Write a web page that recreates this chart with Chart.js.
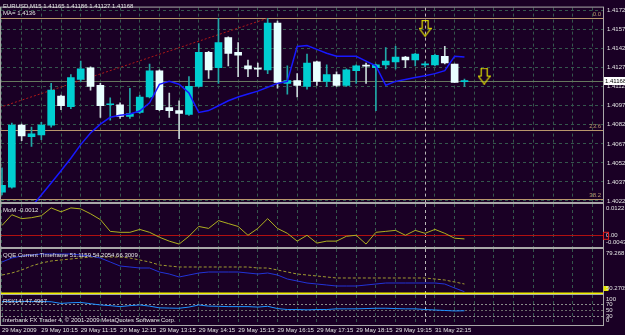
<!DOCTYPE html>
<html>
<head>
<meta charset="utf-8">
<title>EURUSD,M15</title>
<script src="https://cdn.jsdelivr.net/npm/chart.js"></script>
<style>
  html, body { margin: 0; padding: 0; background: #1a0025; }
  #wrap { position: relative; width: 625px; height: 335px; overflow: hidden; }
  #wrap canvas { position: absolute; left: 0; top: 0; }
</style>
</head>
<body>
<div id="wrap">
  <canvas id="main" width="625" height="335"></canvas>
  <canvas id="mom" width="625" height="335"></canvas>
  <canvas id="qqe" width="625" height="335"></canvas>
  <canvas id="rsi" width="625" height="335"></canvas>
</div>
<script>
// EURUSD M15, 48 bars starting 29 May 2009 09:15
var openPrices  = [1.40294, 1.40333, 1.40822, 1.40731, 1.40746, 1.40822, 1.41052, 1.40968, 1.41182, 1.41274,
                   1.41136, 1.40983, 1.40983, 1.40891, 1.40922, 1.41044, 1.41251, 1.40960, 1.40937, 1.40906,
                   1.41128, 1.41396, 1.41274, 1.41511, 1.41396, 1.41289, 1.41266, 1.41258, 1.41626, 1.41151,
                   1.41174, 1.41128, 1.41320, 1.41167, 1.41220, 1.41136, 1.41251, 1.41289, 1.41274, 1.41297,
                   1.41320, 1.41358, 1.41335, 1.41297, 1.41297, 1.41365, 1.41304, 1.41165];
var highPrices  = [1.40486, 1.40838, 1.40830, 1.40807, 1.40845, 1.41151, 1.41059, 1.41220, 1.41327, 1.41281,
                   1.41151, 1.41037, 1.40998, 1.41113, 1.41059, 1.41304, 1.41258, 1.41075, 1.41014, 1.41205,
                   1.41465, 1.41404, 1.41664, 1.41518, 1.41473, 1.41335, 1.41312, 1.41664, 1.41641, 1.41289,
                   1.41228, 1.41381, 1.41327, 1.41297, 1.41243, 1.41266, 1.41297, 1.41312, 1.41304, 1.41434,
                   1.41442, 1.41365, 1.41388, 1.41320, 1.41381, 1.41442, 1.41304, 1.41186];
var lowPrices   = [1.40272, 1.40325, 1.40700, 1.40654, 1.40708, 1.40807, 1.40945, 1.40952, 1.41167, 1.41098,
                   1.40884, 1.40861, 1.40876, 1.40876, 1.40914, 1.41037, 1.40937, 1.40884, 1.40715, 1.40899,
                   1.41121, 1.41190, 1.41151, 1.41289, 1.41205, 1.41205, 1.41205, 1.41228, 1.41113, 1.41067,
                   1.41044, 1.41105, 1.41136, 1.41128, 1.41128, 1.41128, 1.41151, 1.41151, 1.40937, 1.41266,
                   1.41266, 1.41274, 1.41289, 1.41281, 1.41289, 1.41304, 1.41159, 1.41127];
var closePrices = [1.40348, 1.40822, 1.40738, 1.40753, 1.40822, 1.41098, 1.40975, 1.41197, 1.41266, 1.41128,
                   1.40975, 1.40985, 1.40891, 1.40914, 1.41044, 1.41251, 1.40945, 1.40937, 1.40914, 1.41128,
                   1.41396, 1.41258, 1.41473, 1.41388, 1.41373, 1.41266, 1.41264, 1.41626, 1.41159, 1.41174,
                   1.41136, 1.41312, 1.41167, 1.41220, 1.41136, 1.41258, 1.41289, 1.41287, 1.41297, 1.41327,
                   1.41358, 1.41335, 1.41381, 1.41299, 1.41373, 1.41312, 1.41159, 1.41168];

var maValues = [null, null, null, 1.40180, 1.40272, 1.40367, 1.40463, 1.40562, 1.40669, 1.40761,
                1.40830, 1.40884, 1.40901, 1.40910, 1.40933, 1.40998, 1.41144, 1.41167, 1.41144, 1.41075,
                1.40922, 1.40937, 1.40975, 1.41014, 1.41044, 1.41067, 1.41090, 1.41121, 1.41151, 1.41167,
                1.41442, 1.41450, 1.41419, 1.41388, 1.41365, 1.41365, 1.41365, 1.41327, 1.41289, 1.41136,
                1.41167, 1.41182, 1.41197, 1.41212, 1.41228, 1.41251, 1.41365, 1.41358];

var momValues = [0.00395, 0.00808, 0.00658, 0.00695, 0.00770, 0.01070, 0.00920, 0.01070, 0.01033, 0.00845,
                 0.00620, 0.00170, 0.00133, 0.00133, 0.00245, 0.00133, -0.00055, -0.00205, -0.00318, -0.00018,
                 0.00358, 0.00283, 0.00583, 0.00470, 0.00358, 0.00020, 0.00283, 0.00658, 0.00283, 0.00095,
                 -0.00205, 0.00020, -0.00280, -0.00205, -0.00205, -0.00018, 0.00020, -0.00318, 0.00133, 0.00170,
                 0.00208, 0.00020, 0.00208, 0.00095, 0.00245, 0.00095, -0.00093, -0.00120];

var qqeRsiValues = [70.70, 73.34, 74.66, 75.31, 75.97, 75.97, 75.97, 75.97, 75.31, 74.66,
                    73.34, 70.70, 68.07, 67.41, 66.75, 66.75, 64.11, 62.79, 60.82, 62.13,
                    63.45, 64.11, 64.11, 64.11, 64.11, 63.45, 62.79, 63.45, 62.13, 59.50,
                    58.18, 56.86, 56.20, 55.54, 54.88, 54.88, 54.88, 55.54, 56.20, 56.86,
                    56.86, 56.86, 56.86, 56.86, 56.86, 56.20, 53.57, 51.12];
var qqeTrailValues = [62.13, 63.45, 65.43, 68.07, 70.04, 71.36, 72.02, 72.68, 73.34, 73.99,
                      73.99, 73.99, 73.99, 73.34, 72.02, 70.70, 68.72, 68.07, 67.41, 67.41,
                      67.41, 67.41, 67.41, 67.41, 67.41, 67.41, 66.75, 66.75, 65.43, 64.11,
                      62.79, 62.13, 61.48, 60.82, 60.16, 60.16, 60.16, 60.16, 60.16, 60.16,
                      60.16, 60.16, 60.16, 60.16, 59.50, 58.84, 57.52, 56.20];

var rsiValues = [78.4, 78.4, 78.4, 78.4, 78.4, 77.4, 71.9, 74.2, 75.2, 71.0,
                 66.8, 64.5, 61.3, 64.5, 66.8, 62.9, 57.1, 56.4, 55.8, 59.7,
                 66.8, 62.9, 62.3, 61.3, 61.3, 61.3, 59.7, 62.3, 54.8, 51.6,
                 51.6, 50.6, 51.6, 51.6, 53.9, 53.9, 53.9, 54.8, 55.8, 55.8,
                 54.8, 53.9, 53.9, 51.6, 50.0, 48.4, 46.8, 47.5];

var priceTicks = [1.40225, 1.40375, 1.40525, 1.40675, 1.40825, 1.40975, 1.41125, 1.41275, 1.41425, 1.41575, 1.41725];
var timeLabels = ['29 May 2009', '29 May 10:15', '29 May 11:15', '29 May 12:15', '29 May 13:15', '29 May 14:15',
                  '29 May 15:15', '29 May 16:15', '29 May 17:15', '29 May 18:15', '29 May 19:15', '31 May 22:15'];
var timeLabelBars = [0, 4, 8, 12, 16, 20, 24, 28, 32, 36, 40, 44];
var separatorBar = 43;

var fibHigh = 1.41664, fibRange = 0.0373;
var fibLevels = [0, 23.6, 38.2];
var fibLineBars = [-1, 27];
var fibLinePrices = [1.40942, 1.41664];

var arrowBars = [43, 49];
var arrowPrices = [1.41585, 1.41209];

var BG = '#1a0025', GRID = '#35574d', TEXT = '#e4e4e4', BORDER = '#a8a8a8', SEPARATOR = '#b8b8b8';
var BULL = '#00ced1', BEAR = '#e8ffff', BULL_WICK = '#20a8a8', BEAR_WICK = '#c8d8d8';
var FIB = '#b8966c';
var FONT = '6px "Liberation Sans", Arial, sans-serif';
var X_MIN = -0.1, X_MAX = 61.08;

Chart.defaults.font.family = '"Liberation Sans", Arial, sans-serif';
Chart.defaults.font.size = 6;
Chart.defaults.color = TEXT;
Chart.defaults.animation = false;
Chart.defaults.events = [];
Chart.defaults.layout.autoPadding = false;
Chart.defaults.plugins.legend.display = false;
Chart.defaults.plugins.tooltip.enabled = false;

var gridBars = [];
for (var g = 0; g <= 60; g += 2) gridBars.push(g);

function pts(arr) {
  return arr.map(function (v, i) { return { x: i, y: v }; });
}
function isBull(i) { return closePrices[i] >= openPrices[i]; }

function xAxis(labels) {
  return {
    type: 'linear', min: X_MIN, max: X_MAX, offset: false,
    afterBuildTicks: function (s) { s.ticks = gridBars.map(function (v) { return { value: v }; }); },
    afterFit: function (s) { s.height = labels ? 10 : 0; },
    grid: { color: GRID, drawTicks: false, offset: false },
    border: { display: false, dash: [3, 3] },
    ticks: labels ? {
      autoSkip: false, maxRotation: 0, minRotation: 0, align: 'start', padding: 2, color: TEXT,
      callback: function (v) {
        var k = timeLabelBars.indexOf(v);
        return k >= 0 ? timeLabels[k] : '';
      }
    } : { display: false }
  };
}

function yAxis(min, max) {
  return {
    type: 'linear', position: 'right', min: min, max: max,
    afterFit: function (s) { s.width = 22; },
    grid: { display: false },
    border: { display: false },
    ticks: { display: false }
  };
}

function panePlugin(cfg) {
  return {
    id: 'pane',
    beforeDatasetsDraw: function (chart) {
      var ctx = chart.ctx, a = chart.chartArea, xs = chart.scales.x, ys = chart.scales.y;
      ctx.save();
      ctx.lineWidth = 1;
      ctx.strokeStyle = BORDER;
      ctx.strokeRect(a.left - 0.5, a.top - 0.5, a.right - a.left + 1, a.bottom - a.top + 1);
      var sx = Math.round(xs.getPixelForValue(separatorBar)) + 0.5;
      ctx.strokeStyle = SEPARATOR;
      ctx.setLineDash([3, 3]);
      ctx.beginPath(); ctx.moveTo(sx, a.top); ctx.lineTo(sx, a.bottom); ctx.stroke();
      ctx.font = FONT;
      (cfg.levels || []).forEach(function (l) {
        var py = Math.floor(ys.getPixelForValue(l.value)) + 0.5;
        ctx.strokeStyle = l.color;
        ctx.lineWidth = l.width || 1;
        ctx.setLineDash(l.dash || []);
        ctx.beginPath(); ctx.moveTo(a.left, py); ctx.lineTo(a.right, py); ctx.stroke();
        if (l.text) {
          ctx.fillStyle = l.color;
          ctx.textAlign = 'right';
          ctx.textBaseline = 'bottom';
          ctx.fillText(l.text, a.right - 2, py - 1);
        }
      });
      ctx.restore();
    },
    afterDraw: function (chart) {
      var ctx = chart.ctx, a = chart.chartArea, ys = chart.scales.y;
      ctx.save();
      ctx.font = FONT;
      ctx.textBaseline = 'middle';
      ctx.textAlign = 'left';
      (cfg.texts || []).forEach(function (t) {
        ctx.fillStyle = TEXT;
        ctx.fillText(t.text, t.x, t.y);
      });
      (cfg.axisLabels || []).forEach(function (l) {
        var py = Math.min(Math.max(ys.getPixelForValue(l.value), a.top + 4.5), a.bottom - 4.5);
        var lx = a.right + 3;
        if (l.fill) {
          ctx.fillStyle = l.fill;
          ctx.fillRect(a.right + 0.5, py - 2.5, 5, 5);
        }
        ctx.fillStyle = TEXT;
        ctx.fillText(l.text, lx, py);
        if (l.stroke) {
          ctx.strokeStyle = l.stroke;
          ctx.lineWidth = 1;
          ctx.strokeRect(a.right + 0.5, py - 3.5, 5, 7);
        }
      });
      if (cfg.priceBox) {
        var by = ys.getPixelForValue(cfg.priceBox.value);
        ctx.fillStyle = '#ffffff';
        ctx.fillRect(a.right + 1, Math.round(by) - 4, 22, 8);
        ctx.fillStyle = '#000000';
        ctx.fillText(cfg.priceBox.text, a.right + 2, by);
      }
      ctx.restore();
    }
  };
}

// arrow marker used by the two arrow objects
var arrowImg = document.createElement('canvas');
arrowImg.width = 13; arrowImg.height = 17;
var ac = arrowImg.getContext('2d');
ac.strokeStyle = '#e2e200';
ac.lineWidth = 1.2;
ac.beginPath();
ac.moveTo(3.5, 0.6); ac.lineTo(9.5, 0.6); ac.lineTo(9.5, 8.5); ac.lineTo(12.4, 8.5);
ac.lineTo(6.5, 16.3); ac.lineTo(0.6, 8.5); ac.lineTo(3.5, 8.5); ac.closePath();
ac.stroke();

var bars = openPrices.map(function (v, i) { return i; });
var last = bars.length - 1;

// main price pane
var mainY = {
  type: 'linear', position: 'right', min: 1.40217, max: 1.41748,
  afterBuildTicks: function (s) { s.ticks = priceTicks.map(function (v) { return { value: v }; }); },
  afterFit: function (s) { s.width = 22; },
  grid: { color: GRID, drawTicks: false },
  border: { display: false, dash: [3, 3] },
  ticks: { padding: 4, color: TEXT, callback: function (v) { return v.toFixed(5); } }
};

new Chart(document.getElementById('main'), {
  type: 'bar',
  data: {
    datasets: [
      {
        type: 'line', data: pts(maValues), borderColor: '#1818ff', borderWidth: 1.5,
        pointRadius: 0, tension: 0, order: 0
      },
      {
        type: 'scatter', data: arrowBars.map(function (b, i) { return { x: b, y: arrowPrices[i] }; }),
        pointStyle: arrowImg, pointRadius: 7, order: 0
      },
      {
        data: bars.map(function (i) { return { x: i, y: [openPrices[i], closePrices[i]] }; }),
        backgroundColor: function (c) { return isBull(c.dataIndex) ? BULL : BEAR; },
        barThickness: 7, minBarLength: 1, grouped: false, borderWidth: 0, order: 1
      },
      {
        data: bars.map(function (i) { return { x: i, y: [lowPrices[i], highPrices[i]] }; }),
        backgroundColor: function (c) { return isBull(c.dataIndex) ? BULL_WICK : BEAR_WICK; },
        barThickness: 1, grouped: false, borderWidth: 0, order: 2
      },
      {
        type: 'line', data: fibLineBars.map(function (b, i) { return { x: b, y: fibLinePrices[i] }; }),
        borderColor: '#b01818', borderWidth: 1, borderDash: [2, 2], pointRadius: 0, order: 3
      }
    ]
  },
  options: {
    responsive: false,
    layout: { padding: { left: 1, top: 2, right: 0, bottom: 133 } },
    scales: { x: xAxis(false), y: mainY }
  },
  plugins: [panePlugin({
    levels: fibLevels.map(function (p) {
      return { value: fibHigh - p / 100 * fibRange, color: FIB, text: p.toFixed(1) };
    }).concat([{ value: closePrices[last], color: '#66775e' }]),
    texts: [
      { text: 'EURUSD,M15 ' + [openPrices[last], highPrices[last], lowPrices[last], closePrices[last]].map(function (v) { return v.toFixed(5); }).join(' '), x: 3, y: 6 },
      { text: 'MA= ' + maValues[last].toFixed(4), x: 3, y: 13 }
    ],
    priceBox: { value: closePrices[last], text: closePrices[last].toFixed(5) }
  })]
});

// momentum pane
new Chart(document.getElementById('mom'), {
  type: 'line',
  data: { datasets: [{ data: pts(momValues), borderColor: '#b0b020', borderWidth: 1, pointRadius: 0, tension: 0 }] },
  options: {
    responsive: false,
    layout: { padding: { left: 1, top: 204, right: 0, bottom: 88 } },
    scales: { x: xAxis(false), y: yAxis(-0.0043, 0.0122) }
  },
  plugins: [panePlugin({
    levels: [{ value: 0, color: '#b01010' }],
    texts: [{ text: 'MoM ' + momValues[last].toFixed(4), x: 3, y: 210 }],
    axisLabels: [
      { value: 0.0122, text: '0.0122' },
      { value: 0, text: '0.00', stroke: '#e02020' },
      { value: -0.0043, text: '-0.0043' }
    ]
  })]
});

// QQE pane
new Chart(document.getElementById('qqe'), {
  type: 'line',
  data: {
    datasets: [
      { data: pts(qqeRsiValues), borderColor: '#2233d8', borderWidth: 1, pointRadius: 0, tension: 0 },
      { data: pts(qqeTrailValues), borderColor: '#a09a30', borderWidth: 1, borderDash: [3, 2], pointRadius: 0, tension: 0 }
    ]
  },
  options: {
    responsive: false,
    layout: { padding: { left: 1, top: 249, right: 0, bottom: 42 } },
    scales: { x: xAxis(false), y: yAxis(50.2705, 79.268) }
  },
  plugins: [panePlugin({
    levels: [{ value: 50, color: '#f0f000', width: 2 }],
    texts: [{ text: 'QQE Current Timeframe 51.1159 54.2054 66.3009', x: 3, y: 255.5 }],
    axisLabels: [
      { value: 79.268, text: '79.268' },
      { value: 50.2705, text: '50.2705', fill: '#e8e800' }
    ]
  })]
});

// RSI pane with the time axis
new Chart(document.getElementById('rsi'), {
  type: 'line',
  data: { datasets: [{ data: pts(rsiValues), borderColor: '#1e90ff', borderWidth: 1, pointRadius: 0, tension: 0 }] },
  options: {
    responsive: false,
    layout: { padding: { left: 1, top: 295, right: 0, bottom: 0 } },
    scales: { x: xAxis(true), y: yAxis(0, 100) }
  },
  plugins: [panePlugin({
    levels: [
      { value: 70, color: '#8c8c8c', dash: [2, 2] },
      { value: 50, color: '#6c6c6c', dash: [2, 2] },
      { value: 30, color: '#8c8c8c', dash: [2, 2] }
    ],
    texts: [
      { text: 'RSI(14) 47.4967', x: 3, y: 301 },
      { text: 'Interbank FX Trader 4, \u00a9 2001-2009 MetaQuotes Software Corp.', x: 3, y: 320 }
    ],
    axisLabels: [
      { value: 100, text: '100' },
      { value: 70, text: '70' },
      { value: 50, text: '50' },
      { value: 30, text: '30' },
      { value: 0, text: '0' }
    ]
  })]
});
</script>
</body>
</html>
